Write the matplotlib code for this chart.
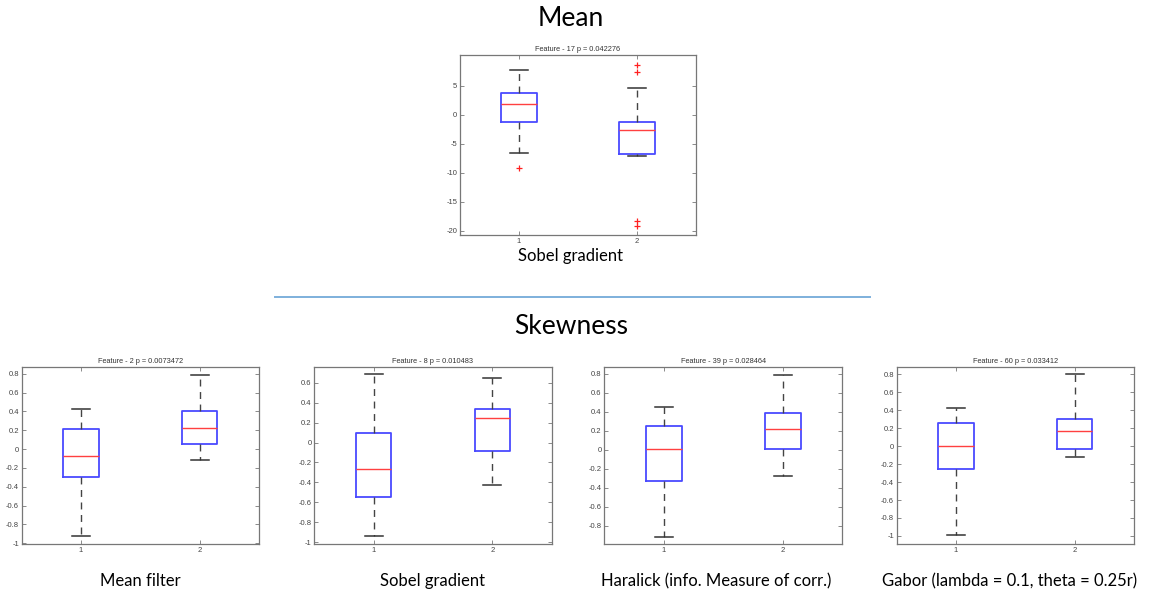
import matplotlib
matplotlib.use("Agg")
import matplotlib.pyplot as plt
from matplotlib.lines import Line2D

# ---------------- data (box statistics) ----------------
top_title = "Feature - 17 p = 0.042276"
top_label = "Sobel gradient"
top_med = [1.9, -2.6]
top_q1 = [-1.3, -6.8]
top_q3 = [3.8, -1.3]
top_whislo = [-6.6, -7.1]
top_whishi = [7.8, 4.7]
top_fliers = [[-9.1], [8.6, 7.3, -18.3, -19.2]]
top_yticks = [-20, -15, -10, -5, 0, 5]
top_ylim = (-20.7, 10.3)

bot_titles = ["Feature - 2 p = 0.0073472", "Feature - 8 p = 0.010483",
              "Feature - 39 p = 0.028464", "Feature - 60 p = 0.033412"]
bot_labels = ["Mean filter", "Sobel gradient",
              "Haralick (info. Measure of corr.)",
              "Gabor (lambda = 0.1, theta = 0.25r)"]
bot_med = [[-0.07, 0.22], [-0.27, 0.25], [0.01, 0.22], [0.0, 0.17]]
bot_q1 = [[-0.30, 0.05], [-0.55, -0.08], [-0.33, 0.01], [-0.25, -0.03]]
bot_q3 = [[0.21, 0.40], [0.10, 0.34], [0.25, 0.39], [0.26, 0.30]]
bot_whislo = [[-0.92, -0.12], [-0.94, -0.43], [-0.92, -0.28], [-0.99, -0.12]]
bot_whishi = [[0.43, 0.79], [0.69, 0.65], [0.45, 0.79], [0.42, 0.80]]
bot_yticks = [[-1, -0.8, -0.6, -0.4, -0.2, 0, 0.2, 0.4, 0.6, 0.8],
              [-1, -0.8, -0.6, -0.4, -0.2, 0, 0.2, 0.4, 0.6],
              [-0.8, -0.6, -0.4, -0.2, 0, 0.2, 0.4, 0.6, 0.8],
              [-1, -0.8, -0.6, -0.4, -0.2, 0, 0.2, 0.4, 0.6, 0.8]]
bot_ylims = [(-1.007, 0.874), (-1.017, 0.76), (-0.995, 0.874), (-1.09, 0.885)]
xticklabels = ["1", "2"]

W, H = 1163, 593
fig = plt.figure(figsize=(W / 100, H / 100), dpi=100)
fig.patch.set_facecolor("white")

LBL_FONT = ["Lato", "DejaVu Sans"]
TICK_FONT = ["Liberation Sans", "DejaVu Sans"]


def fmt(v):
    return "%g" % v


def draw_box(ax, med, q1, q3, lo, hi, fliers, yticks, ylim, title):
    stats = []
    for i in range(2):
        stats.append(dict(med=med[i], q1=q1[i], q3=q3[i], whislo=lo[i],
                          whishi=hi[i], fliers=fliers[i] if fliers else []))
    ax.bxp(stats, positions=[1, 2], widths=0.3, showfliers=True,
           boxprops=dict(color="#4a4aff", linewidth=1.3),
           medianprops=dict(color="#ff4040", linewidth=1.0),
           whiskerprops=dict(color="#444444", linestyle=(0, (5, 4)), linewidth=1.0),
           capprops=dict(color="#333333", linewidth=1.1),
           capwidths=0.15,
           flierprops=dict(marker="+", markeredgecolor="#ff2020",
                           markersize=5, markeredgewidth=0.9, linestyle="none"))
    ax.set_xlim(0.5, 2.5)
    ax.set_ylim(*ylim)
    ax.set_yticks(yticks)
    ax.set_yticklabels([fmt(v) for v in yticks], fontsize=5.5, color="#444444",
                       family=TICK_FONT)
    ax.set_xticks([1, 2])
    ax.set_xticklabels(xticklabels, fontsize=5.5, color="#444444", family=TICK_FONT)
    ax.tick_params(direction="in", length=3, width=0.6, color="#777777",
                   top=True, right=True, pad=2)
    for s in ax.spines.values():
        s.set_color("#777777")
        s.set_linewidth(0.9)
    ax.set_title(title, fontsize=5.3, color="#333333", pad=3, family=TICK_FONT)


# top chart
ax = fig.add_axes([460 / W, 1 - 235 / H, 236 / W, 180 / H])
draw_box(ax, top_med, top_q1, top_q3, top_whislo, top_whishi, top_fliers,
         top_yticks, top_ylim, top_title)

# bottom charts
lefts = [21.7, 314.3, 604.3, 896.7]
widths = [237.3, 237.4, 238.0, 237.3]
for i in range(4):
    ax = fig.add_axes([lefts[i] / W, 1 - 544 / H, widths[i] / W, 177.3 / H])
    draw_box(ax, bot_med[i], bot_q1[i], bot_q3[i], bot_whislo[i], bot_whishi[i],
             None, bot_yticks[i], bot_ylims[i], bot_titles[i])

# headings and labels
fig.text(571 / W, 1 - 19 / H, "Mean", ha="center", va="center", fontsize=19,
         family=LBL_FONT)
fig.text(571 / W, 1 - 256 / H, top_label, ha="center", va="center", fontsize=12,
         family=LBL_FONT)
fig.add_artist(Line2D([275 / W, 870 / W], [1 - 297 / H, 1 - 297 / H],
                      color="#7eb0dc", linewidth=1.4, transform=fig.transFigure))
fig.text(571 / W, 1 - 327 / H, "Skewness", ha="center", va="center", fontsize=19,
         family=LBL_FONT)
label_x = [140, 433, 716, 1010]
for i in range(4):
    fig.text(label_x[i] / W, 1 - 581 / H, bot_labels[i], ha="center", va="center",
             fontsize=12, family=LBL_FONT)

fig.savefig("out.png", dpi=100, facecolor="white")
